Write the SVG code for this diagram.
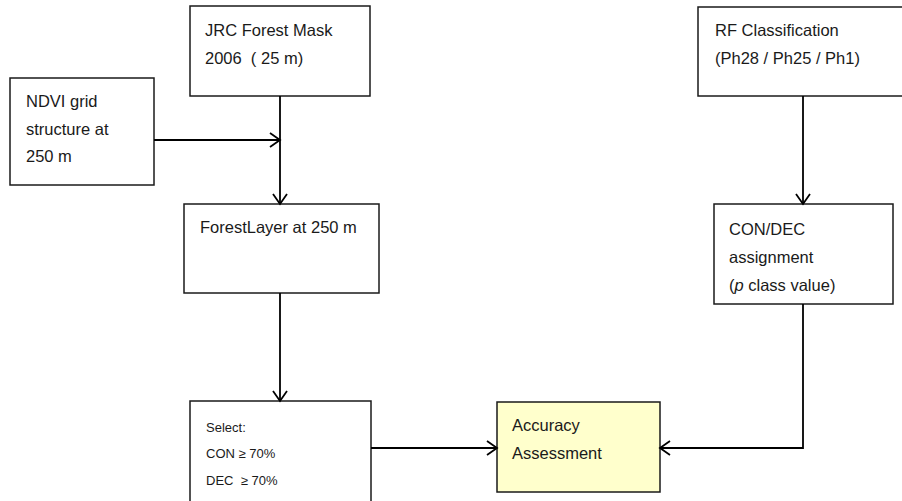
<svg xmlns="http://www.w3.org/2000/svg" width="902" height="501" viewBox="0 0 902 501" xml:space="preserve">
<style>
.box{fill:#fff;stroke:#1a1a1a;stroke-width:1.5}
.acc{fill:#ffffcc;stroke:#1a1a1a;stroke-width:1.5}
.t{font-family:"Liberation Sans",Arial,sans-serif;font-size:16.5px;fill:#1a1a1a;white-space:pre}
.s{font-family:"Liberation Sans",Arial,sans-serif;font-size:13px;fill:#1a1a1a;white-space:pre}
.c{fill:none;stroke:#000;stroke-width:1.8}
</style>
<defs>
<marker id="a" markerUnits="userSpaceOnUse" markerWidth="14" markerHeight="18" viewBox="-12 -8 14 16" refX="0" refY="0" orient="auto">
<path d="M-10,-7 L0,0 L-10,7" fill="none" stroke="#000" stroke-width="1.8"/>
</marker>
</defs>
<g id="jrc"><rect class="box" x="190" y="6" width="180" height="90"/>
<text class="t" x="205" y="36">JRC Forest Mask</text><text class="t" x="205" y="64">2006  ( 25 m)</text></g>
<g id="ndvi"><rect class="box" x="10" y="78" width="144" height="107"/>
<text class="t" x="26" y="107">NDVI grid</text><text class="t" x="26" y="135">structure at</text><text class="t" x="26" y="162">250 m</text></g>
<g id="forest"><rect class="box" x="184" y="204" width="195" height="89"/>
<text class="t" x="200" y="233">ForestLayer at 250 m</text></g>
<g id="rf"><rect class="box" x="698" y="7" width="210" height="89"/>
<text class="t" x="715" y="36">RF Classification</text><text class="t" x="715" y="64">(Ph28 / Ph25 / Ph1)</text></g>
<g id="condec"><rect class="box" x="714" y="204" width="179" height="100"/>
<text class="t" x="729" y="235">CON/DEC</text><text class="t" x="729" y="263">assignment</text><text class="t" x="729" y="291">(<tspan font-style="italic">p</tspan> class value)</text></g>
<g id="select"><rect class="box" x="190" y="401" width="181" height="110"/>
<text class="s" x="206" y="432">Select:</text><text class="s" x="206" y="458">CON ≥ 70%</text><text class="s" x="206" y="485">DEC  ≥ 70%</text></g>
<g id="accuracy"><rect class="acc" x="497" y="402" width="163" height="90"/>
<text class="t" x="512" y="431">Accuracy</text><text class="t" x="512" y="459">Assessment</text></g>
<g id="connectors">
<path class="c" d="M154,140 H280" marker-end="url(#a)"/>
<path class="c" d="M280,96 V204" marker-end="url(#a)"/>
<path class="c" d="M280,293 V401" marker-end="url(#a)"/>
<path class="c" d="M803,96 V204" marker-end="url(#a)"/>
<path class="c" d="M371,448 H497" marker-end="url(#a)"/>
<path class="c" d="M803,304 V448 H660" marker-end="url(#a)"/>
</g>
</svg>
